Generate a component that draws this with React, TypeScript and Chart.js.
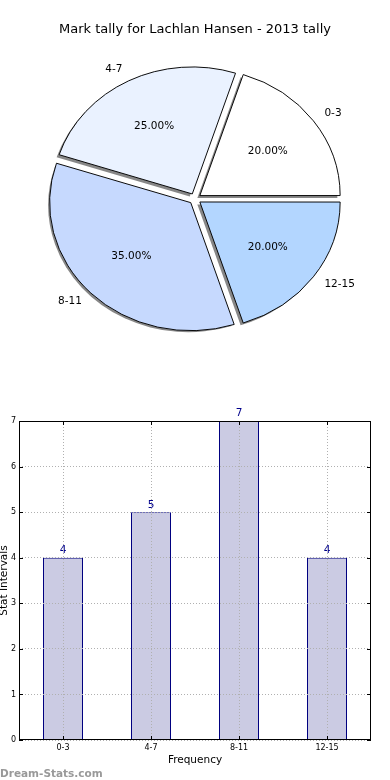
import React, { useEffect, useRef } from "react";
import { Chart, registerables } from "chart.js";

Chart.register(...registerables);

const title = "Mark tally for Lachlan Hansen - 2013 tally";
const categories = ["0-3", "4-7", "8-11", "12-15"];
const counts = [4, 5, 7, 4];
const sliceColors = ["#ffffff", "#eaf2ff", "#c6d9fe", "#b3d6ff"];
const yTickValues = [0, 1, 2, 3, 4, 5, 6, 7];
const xTitle = "Frequency";
const yTitle = "Stat Intervals";
const watermark = "Dream-Stats.com";

const FONT = "'DejaVu Sans', sans-serif";
const PIE_RADIUS = 140;
const Y_SQUASH = 127 / 140;
const EXPLODE = 6;

function squash(ctx: CanvasRenderingContext2D, cx: number, cy: number) {
  ctx.translate(cx, cy);
  ctx.scale(1, Y_SQUASH);
  ctx.translate(-cx, -cy);
}

const piePlugin = {
  id: "pieDecor",
  beforeDatasetsDraw(chart: any) {
    const meta = chart.getDatasetMeta(0);
    const a = meta.data[0];
    const ctx = chart.ctx;
    // shadows (fill only), drawn beneath all wedges
    ctx.save();
    ctx.translate(-2.5, 2.5);
    squash(ctx, a.x, a.y);
    ctx.fillStyle = "rgba(70,70,70,0.65)";
    meta.data.forEach((arc: any) => {
      const mid = (arc.startAngle + arc.endAngle) / 2;
      const cx = arc.x + Math.cos(mid) * EXPLODE;
      const cy = arc.y + Math.sin(mid) * EXPLODE;
      ctx.beginPath();
      ctx.moveTo(cx, cy);
      ctx.arc(cx, cy, arc.outerRadius, arc.startAngle, arc.endAngle);
      ctx.closePath();
      ctx.fill();
    });
    ctx.restore();
    ctx.save();
    squash(ctx, a.x, a.y);
  },
  afterDatasetsDraw(chart: any) {
    const ctx = chart.ctx;
    ctx.restore();
    const meta = chart.getDatasetMeta(0);
    const data = chart.data.datasets[0].data as number[];
    const labels = chart.data.labels as string[];
    const total = data.reduce((s, v) => s + v, 0);
    ctx.save();
    ctx.fillStyle = "#000";
    ctx.font = `10.5px ${FONT}`;
    meta.data.forEach((arc: any, i: number) => {
      const mid = (arc.startAngle + arc.endAngle) / 2;
      const ux = Math.cos(mid);
      const uy = Math.sin(mid);
      const r = arc.outerRadius;
      const pos = (d: number) => ({
        x: arc.x + (EXPLODE + d * r) * ux,
        y: arc.y + (EXPLODE + d * r) * uy * Y_SQUASH,
      });
      const p = pos(0.6);
      ctx.textAlign = "center";
      ctx.textBaseline = "middle";
      ctx.fillText(((data[i] / total) * 100).toFixed(2) + "%", p.x, p.y);
      const l = pos(1.1);
      ctx.textAlign = ux > 0 ? "left" : "right";
      ctx.fillText(labels[i], l.x, l.y);
    });
    ctx.restore();
  },
};

const barPlugin = {
  id: "barDecor",
  afterDatasetsDraw(chart: any) {
    const ctx = chart.ctx;
    const meta = chart.getDatasetMeta(0);
    const data = chart.data.datasets[0].data as number[];
    ctx.save();
    ctx.fillStyle = "#00008b";
    ctx.font = `10.5px ${FONT}`;
    ctx.textAlign = "center";
    ctx.textBaseline = "bottom";
    meta.data.forEach((bar: any, i: number) => {
      ctx.fillText(String(data[i]), bar.x, bar.y - 2);
    });
    ctx.restore();
  },
  afterDraw(chart: any) {
    const ctx = chart.ctx;
    const { left, right, top, bottom } = chart.chartArea;
    const xs = chart.scales.x;
    const ys = chart.scales.y;
    ctx.save();
    ctx.strokeStyle = "#000";
    ctx.lineWidth = 1;
    ctx.strokeRect(Math.round(left) + 0.5, Math.round(top) + 0.5, Math.round(right - left) - 1, Math.round(bottom - top) - 1);
    ctx.beginPath();
    ys.ticks.forEach((t: any, i: number) => {
      const y = Math.round(ys.getPixelForTick(i)) + 0.5;
      ctx.moveTo(left, y);
      ctx.lineTo(left + 4, y);
      ctx.moveTo(right, y);
      ctx.lineTo(right - 4, y);
    });
    xs.ticks.forEach((t: any, i: number) => {
      const x = Math.round(xs.getPixelForTick(i)) + 0.5;
      ctx.moveTo(x, bottom);
      ctx.lineTo(x, bottom - 4);
      ctx.moveTo(x, top);
      ctx.lineTo(x, top + 4);
    });
    ctx.stroke();
    // y axis title
    ctx.fillStyle = "#000";
    ctx.font = `10.5px ${FONT}`;
    ctx.textAlign = "center";
    ctx.textBaseline = "middle";
    ctx.translate(4, (top + bottom) / 2);
    ctx.rotate(-Math.PI / 2);
    ctx.fillText(yTitle, 0, 0);
    ctx.restore();
    // watermark
    ctx.save();
    ctx.fillStyle = "#999999";
    ctx.font = `bold 10.5px ${FONT}`;
    ctx.textAlign = "left";
    ctx.textBaseline = "alphabetic";
    ctx.fillText(watermark, 0, chart.height - 3.5);
    ctx.restore();
  },
};

export default function App() {
  const pieRef = useRef<HTMLCanvasElement>(null);
  const barRef = useRef<HTMLCanvasElement>(null);

  useEffect(() => {
    const order = [...categories.keys()].reverse();
    const pie = new Chart(pieRef.current!, {
      type: "pie",
      data: {
        labels: order.map((i) => categories[i]),
        datasets: [
          {
            data: order.map((i) => counts[i]),
            backgroundColor: order.map((i) => sliceColors[i]),
            borderColor: "#000",
            borderWidth: 1,
            borderJoinStyle: "miter",
            offset: EXPLODE * 4,
            clip: false,
          } as any,
        ],
      },
      options: {
        animation: false,
        responsive: false,
        events: [],
        rotation: 90,
        radius: PIE_RADIUS,
        layout: { padding: 0 },
        plugins: {
          legend: { display: false },
          tooltip: { enabled: false },
          title: {
            display: true,
            text: title,
            color: "#000",
            font: { family: FONT, size: 13, weight: "normal" },
            padding: { top: 22, bottom: 0 },
          },
        },
      } as any,
      plugins: [piePlugin],
    });

    const bar = new Chart(barRef.current!, {
      type: "bar",
      data: {
        labels: categories,
        datasets: [
          {
            data: counts,
            backgroundColor: "#cbcbe3",
            borderColor: "#000080",
            borderWidth: 1,
            barPercentage: 40 / 88,
            categoryPercentage: 1,
          },
        ],
      },
      options: {
        animation: false,
        responsive: false,
        events: [],
        layout: { padding: { left: 0, right: 19, top: 61, bottom: 0 } },
        plugins: {
          legend: { display: false },
          tooltip: { enabled: false },
        },
        scales: {
          x: {
            type: "category",
            offset: true,
            afterFit: (s: any) => {
              s.height = 40;
            },
            grid: {
              offset: false,
              color: "#b0b0b0",
              lineWidth: 1,
              drawTicks: false,
              borderDash: [1, 2],
              z: 1,
            },
            border: { display: false, dash: [1, 2] },
            ticks: {
              color: "#000",
              font: { family: FONT, size: 8 },
              padding: 3,
              maxRotation: 0,
            },
            title: {
              display: true,
              text: xTitle,
              color: "#000",
              font: { family: FONT, size: 10.5 },
              padding: { top: 0, bottom: 13.7 },
            },
          },
          y: {
            min: yTickValues[0],
            max: yTickValues[yTickValues.length - 1],
            afterFit: (s: any) => {
              s.width = 19;
            },
            afterBuildTicks: (s: any) => {
              s.ticks = yTickValues.map((v) => ({ value: v }));
            },
            grid: {
              color: "#b0b0b0",
              lineWidth: 1,
              drawTicks: false,
              borderDash: [1, 2],
              z: 1,
            },
            border: { display: false, dash: [1, 2] },
            ticks: {
              color: "#000",
              font: { family: FONT, size: 8 },
              padding: 3,
            },
          },
        },
      } as any,
      plugins: [barPlugin],
    });

    return () => {
      pie.destroy();
      bar.destroy();
    };
  }, []);

  return (
    <div style={{ position: "fixed", left: 0, top: 0, width: 390, height: 780, background: "#fff" }}>
      <canvas ref={pieRef} width={390} height={360} style={{ position: "absolute", left: 0, top: 0, width: 390, height: 360 }} />
      <canvas ref={barRef} width={390} height={420} style={{ position: "absolute", left: 0, top: 360, width: 390, height: 420 }} />
    </div>
  );
}
